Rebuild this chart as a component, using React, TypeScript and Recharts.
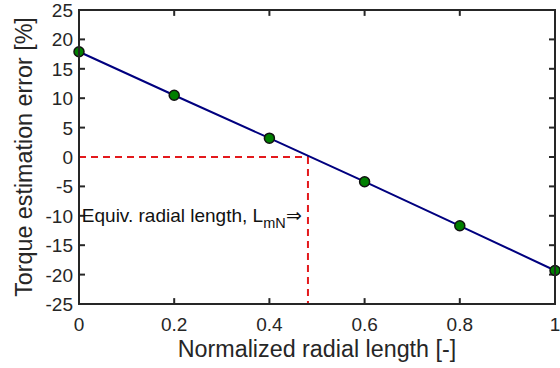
import React from 'react';
import { LineChart, Line, XAxis, YAxis, ReferenceLine, ReferenceDot, Label } from 'recharts';

const radialLength = [0, 0.2, 0.4, 0.6, 0.8, 1];
const torqueError = [17.9, 10.5, 3.2, -4.2, -11.7, -19.3];
const xTicks = [0, 0.2, 0.4, 0.6, 0.8, 1];
const yTicks = [-25, -20, -15, -10, -5, 0, 5, 10, 15, 20, 25];
const equivLength = 0.481;

const data = radialLength.map((x, i) => ({ x, err: torqueError[i] }));

const PLOT_TOP = 10;
const PLOT_BOTTOM = 304;
const PLOT_LEFT = 79;
const PLOT_RIGHT = 555;
const AXIS = '#262626';
const FONT = 'Liberation Sans, Arial, sans-serif';
// inward tick length, in axis units (about 6px each way)
const X_TICK_LEN = 0.0126;
const Y_TICK_LEN = 1;

const BottomTick = (props: any) => {
  const { x, payload } = props;
  return (
    <text x={x} y={PLOT_BOTTOM + 27} textAnchor="middle" fontSize={19} fill={AXIS} fontFamily={FONT}>
      {payload.value}
    </text>
  );
};

const LeftTick = (props: any) => {
  const { y, payload } = props;
  return (
    <text x={PLOT_LEFT - 6} y={y + 7} textAnchor="end" fontSize={19} fill={AXIS} fontFamily={FONT}>
      {payload.value}
    </text>
  );
};

const Annotation = (props: any) => {
  const { viewBox } = props;
  return (
    <text x={viewBox.x} y={viewBox.y + 6} fontSize={19} fill="#111" fontFamily={FONT}>
      Equiv. radial length, L
      <tspan fontSize={14.5} dy={6}>mN</tspan>
      <tspan dy={-6}>⇒</tspan>
    </text>
  );
};

export default function App() {
  return (
    <div style={{ position: 'absolute', left: 0, top: 0, width: 560, height: 368, background: '#fff' }}>
      <LineChart width={560} height={368} data={data} margin={{ top: PLOT_TOP, right: 560 - PLOT_RIGHT, bottom: 0, left: 0 }}>
        <XAxis
          dataKey="x"
          type="number"
          domain={[0, 1]}
          ticks={xTicks}
          height={368 - PLOT_BOTTOM}
          axisLine={{ stroke: AXIS, strokeWidth: 2 }}
          tickLine={false}
          tick={<BottomTick />}
          interval={0}
        >
          <Label value="Normalized radial length [-]" position="insideBottom" offset={11} fontSize={23.3} fill={AXIS} fontFamily={FONT} />
        </XAxis>
        <YAxis
          type="number"
          domain={[-25, 25]}
          ticks={yTicks}
          width={PLOT_LEFT}
          axisLine={{ stroke: AXIS, strokeWidth: 2 }}
          tickLine={false}
          tick={<LeftTick />}
          interval={0}
        >
          <Label
            value="Torque estimation error [%]"
            angle={-90}
            position="insideLeft"
            offset={24}
            style={{ textAnchor: 'middle' }}
            fontSize={23.3}
            fill={AXIS}
            fontFamily={FONT}
          />
        </YAxis>
        {/* inward ticks on all four sides */}
        {xTicks.map((t) => (
          <ReferenceLine key={`b${t}`} segment={[{ x: t, y: -25 }, { x: t, y: -25 + Y_TICK_LEN }]} stroke={AXIS} strokeWidth={2} />
        ))}
        {xTicks.map((t) => (
          <ReferenceLine key={`t${t}`} segment={[{ x: t, y: 25 }, { x: t, y: 25 - Y_TICK_LEN }]} stroke={AXIS} strokeWidth={2} />
        ))}
        {yTicks.map((t) => (
          <ReferenceLine key={`l${t}`} segment={[{ x: 0, y: t }, { x: X_TICK_LEN, y: t }]} stroke={AXIS} strokeWidth={2} />
        ))}
        {yTicks.map((t) => (
          <ReferenceLine key={`r${t}`} segment={[{ x: 1, y: t }, { x: 1 - X_TICK_LEN, y: t }]} stroke={AXIS} strokeWidth={2} />
        ))}
        <ReferenceLine
          segment={[{ x: 0, y: 0 }, { x: equivLength, y: 0 }]}
          stroke="#e3191c"
          strokeWidth={2}
          strokeDasharray="7 5"
        />
        <ReferenceLine
          segment={[{ x: equivLength, y: 0 }, { x: equivLength, y: -25 }]}
          stroke="#e3191c"
          strokeWidth={2}
          strokeDasharray="7 5"
        />
        <ReferenceDot x={0.006} y={-10} r={0} stroke="none" label={<Annotation />} />
        <Line
          dataKey="err"
          stroke="#00007f"
          strokeWidth={2}
          isAnimationActive={false}
          dot={{ r: 5, fill: '#007f00', stroke: '#111', strokeWidth: 1.5 }}
          activeDot={false}
        />
      </LineChart>
      {/* plot box frame */}
      <div
        style={{
          position: 'absolute',
          left: PLOT_LEFT - 1,
          top: PLOT_TOP - 1,
          width: PLOT_RIGHT - PLOT_LEFT - 2,
          height: PLOT_BOTTOM - PLOT_TOP - 2,
          border: `2px solid ${AXIS}`,
          pointerEvents: 'none',
        }}
      />
    </div>
  );
}
